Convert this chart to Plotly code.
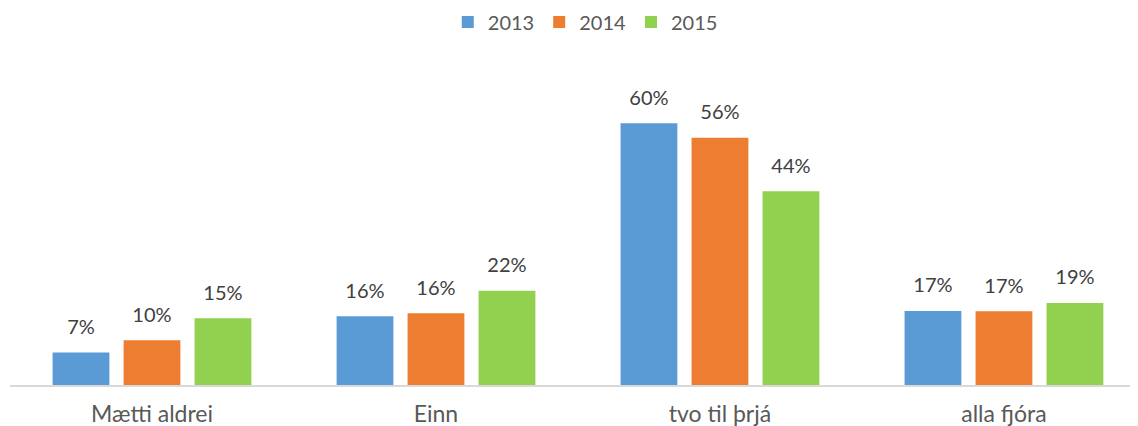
import plotly.graph_objects as go

categories = ["Mætti aldrei", "Einn", "tvo til þrjá", "alla fjóra"]
years = ["2013", "2014", "2015"]
values_2013 = [7.4, 15.7, 59.7, 16.9]
values_2014 = [10.2, 16.35, 56.4, 16.8]
values_2015 = [15.2, 21.5, 44.2, 18.7]
colors = ["#5B9BD5", "#ED7D31", "#92D050"]

series = [values_2013, values_2014, values_2015]
FONT = "Lato, Open Sans, sans-serif"

fig = go.Figure()
for name, vals, col in zip(years, series, colors):
    fig.add_trace(go.Bar(
        x=categories, y=vals, name=name,
        marker=dict(color=col, line=dict(width=0)),
        hoverinfo="skip",
    ))
# value labels, grouped like the bars
for name, vals in zip(years, series):
    fig.add_trace(go.Scatter(
        x=categories, y=vals, mode="markers+text",
        marker=dict(size=20, opacity=0), showlegend=False,
        text=[f"{v:.0f}%" for v in vals], textposition="top center",
        textfont=dict(size=20, color="#404040", family=FONT),
        cliponaxis=False, hoverinfo="skip",
    ))

fig.update_layout(
    width=1130, height=418,
    margin=dict(l=2, r=0, t=70, b=41),
    paper_bgcolor="white", plot_bgcolor="white",
    barmode="group", bargap=0.25, bargroupgap=0.2,
    scattermode="group", scattergap=0.25,
    font=dict(family=FONT, color="#595959"),
    legend=dict(orientation="h", x=0.51, xanchor="center", y=0.9665, yanchor="middle",
                yref="container", font=dict(size=20, color="#595959"),
                itemwidth=30),
    showlegend=True,
)
fig.update_xaxes(range=[-0.5, 3.472], showline=True, linecolor="#D9D9D9", linewidth=1.5,
                 ticks="", ticklabelstandoff=8, automargin=False,
                 tickfont=dict(size=23, color="#595959", family=FONT), showgrid=False)
fig.update_yaxes(range=[0, 70], visible=False, showgrid=False, automargin=False)

fig.write_html("out.html")
